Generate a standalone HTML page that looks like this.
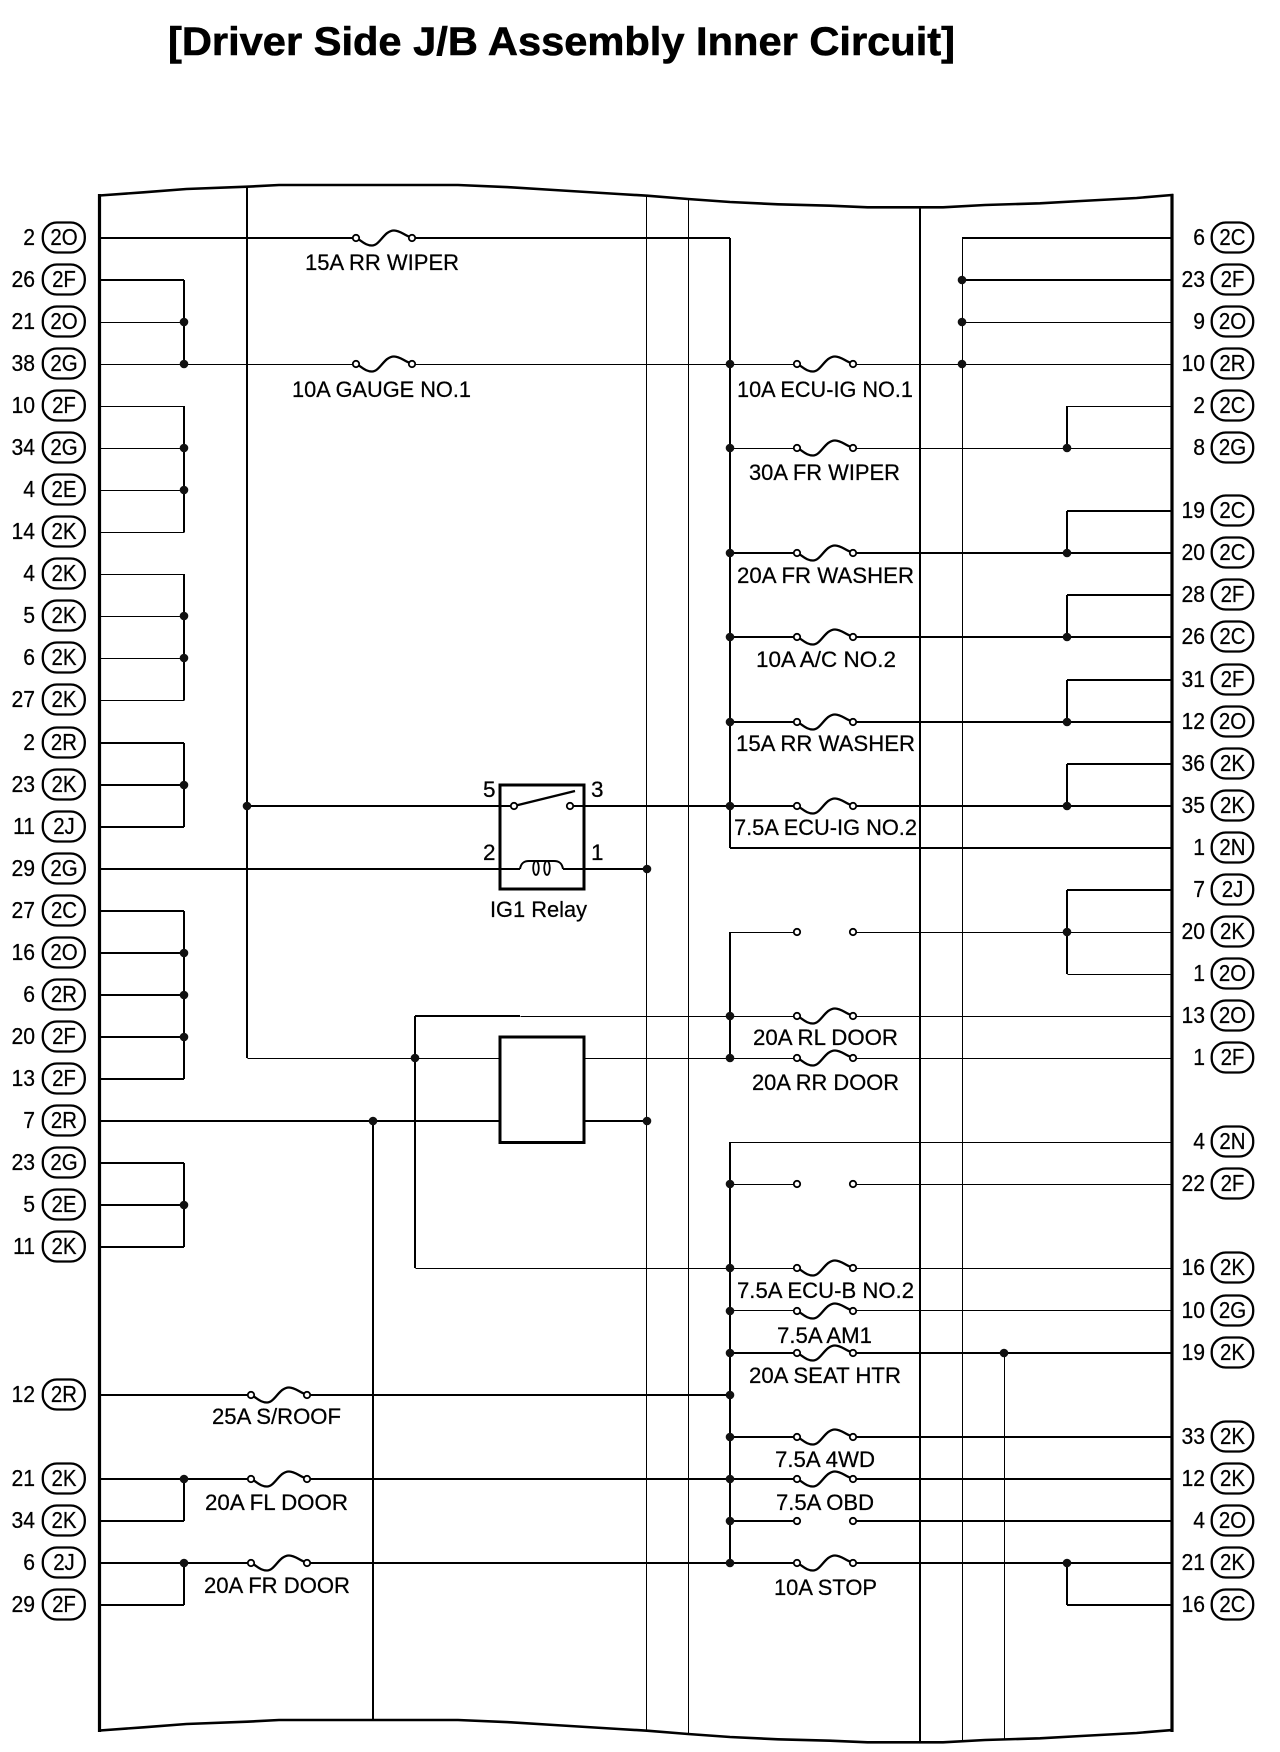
<!DOCTYPE html>
<html>
<head>
<meta charset="utf-8">
<title>Driver Side J/B Assembly Inner Circuit</title>
<style>
html,body{margin:0;padding:0;background:#fff}
svg{display:block}
text{font-family:"Liberation Sans",Arial,sans-serif;font-size:22.5px;fill:#000;stroke:#000;stroke-width:.25px}
.n{text-anchor:end;font-size:23px;transform-box:fill-box;transform-origin:100% 50%;transform:scaleX(.92)}
.p{text-anchor:middle;font-size:23.5px;transform-box:fill-box;transform-origin:50% 50%;transform:scaleX(.87)}
.w{fill:none;stroke:#000;shape-rendering:crispEdges}
</style>
</head>
<body>
<svg xmlns="http://www.w3.org/2000/svg" width="1280" height="1752" viewBox="0 0 1280 1752">
<defs>
<clipPath id="fc"><polygon points="99.5,195.5 143.6,192.3 186.4,189 247,186.7 279,185 458,185 511,187.3 554,190 618.6,194 647,195.7 688,199 730,202 778,204.3 830,205.7 867.6,207.3 943,207.3 985,205 1040,203.3 1081,201 1136.6,198 1172,195 1172,1730 1136.6,1733 1081,1736 1040,1738.3 985,1740 943,1742.3 867.6,1742.3 830,1740.7 778,1739.3 730,1737 688,1734 647,1730.7 618.6,1729 554,1725 511,1722.3 458,1720 279,1720 247,1721.7 186.4,1724 143.6,1727.3 99.5,1730.5"/></clipPath>
<g id="f"><path d="M-26,1 C-21,4 -18,7.5 -12,7.5 C-4,7.5 0,-7.5 10,-7.5 C16,-7.5 20,-3 26,-1" fill="none" stroke="#000" stroke-width="2.3"/><circle cx="-28" cy="0" r="3.2" fill="#fff" stroke="#000" stroke-width="1.8"/><circle cx="28" cy="0" r="3.2" fill="#fff" stroke="#000" stroke-width="1.8"/></g>
<g id="o"><circle cx="-28" cy="0" r="3.2" fill="#fff" stroke="#000" stroke-width="1.8"/><circle cx="28" cy="0" r="3.2" fill="#fff" stroke="#000" stroke-width="1.8"/></g>
<circle id="d" r="4.3" fill="#111"/>
<rect id="pl" x="42.8" y="-15.5" width="42" height="30" rx="14" ry="14" fill="#fff" stroke="#000" stroke-width="2.3"/>
<rect id="pr" x="1211.7" y="-15.5" width="41.5" height="30" rx="14" ry="14" fill="#fff" stroke="#000" stroke-width="2.3"/>
</defs>

<text x="168" y="55" textLength="787" lengthAdjust="spacingAndGlyphs" style="font-size:40px;font-weight:bold;stroke-width:.6px">[Driver Side J/B Assembly Inner Circuit]</text>

<!-- thin wires -->
<g class="w" stroke-width="1" transform="translate(0.5,0.5)" clip-path="url(#fc)">
<path d="M646 180V1745M688 180V1745M962 238V1745M1004 1353V1745"/>
<path d="M100 322H184M962 322H1172M100 364H356M412 364H797M853 364H1172M100 406H184M1067 406H1172M100 448H184M730 448H797M853 448H1172M100 490H184M100 532H184M100 574H184M100 616H184M100 658H184M100 700H184"/>
<path d="M730 932H797M853 932H1172M1067 974H1172M520 1016H797M853 1016H1172M247 1058H500M584 1058H797M853 1058H1172M730 1142H1172M730 1184H797M853 1184H1172M415 1268H797M853 1268H1172M730 1310H797M853 1310H1172"/>
</g>

<!-- thick wires -->
<g class="w" stroke-width="2" clip-path="url(#fc)">
<path d="M100 238H356M412 238H730M962 238H1172M100 280H184M962 280H1172"/>
<path d="M100 743H184M100 785H184M100 827H184M100 869H520M563 869H647M100 911H184M100 953H184M100 995H184M100 1037H184M100 1079H184M100 1121H500M584 1121H647M100 1163H184M100 1205H184M100 1247H184"/>
<path d="M247 806H514M570 806H797M853 806H1172M415 1016H520"/>
<path d="M100 1395H251M307 1395H730M100 1479H251M307 1479H797M853 1479H1172M100 1521H184M730 1521H797M853 1521H1172M100 1563H251M307 1563H797M853 1563H1172M100 1605H184M1067 1605H1172M730 1353H797M853 1353H1172M730 1437H797M853 1437H1172"/>
<path d="M1067 511H1172M730 553H797M853 553H1172M1067 595H1172M730 637H797M853 637H1172M1067 680H1172M730 722H797M853 722H1172M1067 764H1172M730 848H1172M1067 890H1172"/>
<path d="M247 180V1058M373 1121V1745M415 1016V1268M730 238V848M730 932V1058M730 1142V1563M920 180V1745"/>
<path d="M184 280V364M184 406V532M184 574V700M184 743V827M184 911V1079M184 1163V1247M184 1479V1521M184 1563V1605"/>
<path d="M1067 406V448M1067 511V553M1067 595V637M1067 680V722M1067 764V806M1067 890V974M1067 1563V1605"/>
</g>

<!-- frame -->
<polygon points="99.5,195.5 143.6,192.3 186.4,189 247,186.7 279,185 458,185 511,187.3 554,190 618.6,194 647,195.7 688,199 730,202 778,204.3 830,205.7 867.6,207.3 943,207.3 985,205 1040,203.3 1081,201 1136.6,198 1172,195 1172,1730 1136.6,1733 1081,1736 1040,1738.3 985,1740 943,1742.3 867.6,1742.3 830,1740.7 778,1739.3 730,1737 688,1734 647,1730.7 618.6,1729 554,1725 511,1722.3 458,1720 279,1720 247,1721.7 186.4,1724 143.6,1727.3 99.5,1730.5" fill="none" stroke="#000" stroke-width="2.6"/>
<path d="M99.5 194V1732M1172 194V1732" stroke="#000" stroke-width="3.2" fill="none"/>

<!-- junction dots -->
<use href="#d" x="184" y="322"/><use href="#d" x="184" y="364"/><use href="#d" x="184" y="448"/><use href="#d" x="184" y="490"/><use href="#d" x="184" y="616"/><use href="#d" x="184" y="658"/><use href="#d" x="184" y="785"/><use href="#d" x="184" y="953"/><use href="#d" x="184" y="995"/><use href="#d" x="184" y="1037"/><use href="#d" x="184" y="1205"/><use href="#d" x="184" y="1479"/><use href="#d" x="184" y="1563"/>
<use href="#d" x="247" y="806"/><use href="#d" x="415" y="1058"/><use href="#d" x="373" y="1121"/><use href="#d" x="647" y="869"/><use href="#d" x="647" y="1121"/>
<use href="#d" x="730" y="364"/><use href="#d" x="730" y="448"/><use href="#d" x="730" y="553"/><use href="#d" x="730" y="637"/><use href="#d" x="730" y="722"/><use href="#d" x="730" y="806"/><use href="#d" x="730" y="1016"/><use href="#d" x="730" y="1058"/><use href="#d" x="730" y="1184"/><use href="#d" x="730" y="1268"/><use href="#d" x="730" y="1311"/><use href="#d" x="730" y="1353"/><use href="#d" x="730" y="1395"/><use href="#d" x="730" y="1437"/><use href="#d" x="730" y="1479"/><use href="#d" x="730" y="1521"/><use href="#d" x="730" y="1563"/>
<use href="#d" x="962" y="280"/><use href="#d" x="962" y="322"/><use href="#d" x="962" y="364"/><use href="#d" x="1004" y="1353"/>
<use href="#d" x="1067" y="448"/><use href="#d" x="1067" y="553"/><use href="#d" x="1067" y="637"/><use href="#d" x="1067" y="722"/><use href="#d" x="1067" y="806"/><use href="#d" x="1067" y="932"/><use href="#d" x="1067" y="1563"/>

<!-- fuses -->
<use href="#f" x="384" y="238"/><use href="#f" x="384" y="364"/>
<use href="#f" x="279" y="1395"/><use href="#f" x="279" y="1479"/><use href="#f" x="279" y="1563"/>
<use href="#f" x="825" y="364"/><use href="#f" x="825" y="448"/><use href="#f" x="825" y="553"/><use href="#f" x="825" y="637"/><use href="#f" x="825" y="722"/><use href="#f" x="825" y="806"/><use href="#f" x="825" y="1016"/><use href="#f" x="825" y="1058"/><use href="#f" x="825" y="1268"/><use href="#f" x="825" y="1311"/><use href="#f" x="825" y="1353"/><use href="#f" x="825" y="1437"/><use href="#f" x="825" y="1479"/><use href="#f" x="825" y="1563"/>
<use href="#o" x="825" y="932"/><use href="#o" x="825" y="1184"/><use href="#o" x="825" y="1521"/>

<!-- relay -->
<rect x="500" y="785" width="84" height="104" fill="none" stroke="#000" stroke-width="3"/>
<rect x="500" y="1037" width="84" height="105.5" fill="#fff" stroke="#000" stroke-width="3"/>
<path d="M514 806L575 791" stroke="#000" stroke-width="2.4" fill="none"/>
<circle cx="514" cy="806" r="3.2" fill="#fff" stroke="#000" stroke-width="1.8"/>
<circle cx="570" cy="806" r="3.2" fill="#fff" stroke="#000" stroke-width="1.8"/>
<path d="M520 869C521 863 524 861 529 861H554C559 861 562 863 563 869" fill="none" stroke="#000" stroke-width="2"/>
<ellipse cx="536" cy="868" rx="2.8" ry="7" fill="none" stroke="#000" stroke-width="1.8"/>
<ellipse cx="547" cy="868" rx="2.8" ry="7" fill="none" stroke="#000" stroke-width="1.8"/>
<text x="483" y="797">5</text><text x="591" y="797">3</text><text x="483" y="860">2</text><text x="591" y="860">1</text>

<!-- labels -->
<text x="305" y="270" textLength="154" lengthAdjust="spacingAndGlyphs">15A RR WIPER</text>
<text x="292" y="397" textLength="179" lengthAdjust="spacingAndGlyphs">10A GAUGE NO.1</text>
<text x="737" y="397" textLength="176" lengthAdjust="spacingAndGlyphs">10A ECU-IG NO.1</text>
<text x="749" y="480" textLength="151" lengthAdjust="spacingAndGlyphs">30A FR WIPER</text>
<text x="737" y="583" textLength="177" lengthAdjust="spacingAndGlyphs">20A FR WASHER</text>
<text x="756" y="667" textLength="140" lengthAdjust="spacingAndGlyphs">10A A/C NO.2</text>
<text x="736" y="751" textLength="179" lengthAdjust="spacingAndGlyphs">15A RR WASHER</text>
<text x="734" y="835" textLength="183" lengthAdjust="spacingAndGlyphs">7.5A ECU-IG NO.2</text>
<text x="490" y="917" textLength="97" lengthAdjust="spacingAndGlyphs">IG1 Relay</text>
<text x="753" y="1045" textLength="145" lengthAdjust="spacingAndGlyphs">20A RL DOOR</text>
<text x="752" y="1090" textLength="147" lengthAdjust="spacingAndGlyphs">20A RR DOOR</text>
<text x="737" y="1298" textLength="177" lengthAdjust="spacingAndGlyphs">7.5A ECU-B NO.2</text>
<text x="777" y="1343" textLength="95" lengthAdjust="spacingAndGlyphs">7.5A AM1</text>
<text x="749" y="1383" textLength="152" lengthAdjust="spacingAndGlyphs">20A SEAT HTR</text>
<text x="775" y="1467" textLength="100" lengthAdjust="spacingAndGlyphs">7.5A 4WD</text>
<text x="776" y="1510" textLength="98" lengthAdjust="spacingAndGlyphs">7.5A OBD</text>
<text x="774" y="1595" textLength="103" lengthAdjust="spacingAndGlyphs">10A STOP</text>
<text x="212" y="1424" textLength="129" lengthAdjust="spacingAndGlyphs">25A S/ROOF</text>
<text x="205" y="1510" textLength="143" lengthAdjust="spacingAndGlyphs">20A FL DOOR</text>
<text x="204" y="1593" textLength="146" lengthAdjust="spacingAndGlyphs">20A FR DOOR</text>

<!-- left connectors -->
<g transform="translate(0,238)"><use href="#pl"/><text x="35" y="7" class="n">2</text><text x="64" y="7" class="p">2O</text></g>
<g transform="translate(0,280)"><use href="#pl"/><text x="35" y="7" class="n">26</text><text x="64" y="7" class="p">2F</text></g>
<g transform="translate(0,322)"><use href="#pl"/><text x="35" y="7" class="n">21</text><text x="64" y="7" class="p">2O</text></g>
<g transform="translate(0,364)"><use href="#pl"/><text x="35" y="7" class="n">38</text><text x="64" y="7" class="p">2G</text></g>
<g transform="translate(0,406)"><use href="#pl"/><text x="35" y="7" class="n">10</text><text x="64" y="7" class="p">2F</text></g>
<g transform="translate(0,448)"><use href="#pl"/><text x="35" y="7" class="n">34</text><text x="64" y="7" class="p">2G</text></g>
<g transform="translate(0,490)"><use href="#pl"/><text x="35" y="7" class="n">4</text><text x="64" y="7" class="p">2E</text></g>
<g transform="translate(0,532)"><use href="#pl"/><text x="35" y="7" class="n">14</text><text x="64" y="7" class="p">2K</text></g>
<g transform="translate(0,574)"><use href="#pl"/><text x="35" y="7" class="n">4</text><text x="64" y="7" class="p">2K</text></g>
<g transform="translate(0,616)"><use href="#pl"/><text x="35" y="7" class="n">5</text><text x="64" y="7" class="p">2K</text></g>
<g transform="translate(0,658)"><use href="#pl"/><text x="35" y="7" class="n">6</text><text x="64" y="7" class="p">2K</text></g>
<g transform="translate(0,700)"><use href="#pl"/><text x="35" y="7" class="n">27</text><text x="64" y="7" class="p">2K</text></g>
<g transform="translate(0,743)"><use href="#pl"/><text x="35" y="7" class="n">2</text><text x="64" y="7" class="p">2R</text></g>
<g transform="translate(0,785)"><use href="#pl"/><text x="35" y="7" class="n">23</text><text x="64" y="7" class="p">2K</text></g>
<g transform="translate(0,827)"><use href="#pl"/><text x="35" y="7" class="n">11</text><text x="64" y="7" class="p">2J</text></g>
<g transform="translate(0,869)"><use href="#pl"/><text x="35" y="7" class="n">29</text><text x="64" y="7" class="p">2G</text></g>
<g transform="translate(0,911)"><use href="#pl"/><text x="35" y="7" class="n">27</text><text x="64" y="7" class="p">2C</text></g>
<g transform="translate(0,953)"><use href="#pl"/><text x="35" y="7" class="n">16</text><text x="64" y="7" class="p">2O</text></g>
<g transform="translate(0,995)"><use href="#pl"/><text x="35" y="7" class="n">6</text><text x="64" y="7" class="p">2R</text></g>
<g transform="translate(0,1037)"><use href="#pl"/><text x="35" y="7" class="n">20</text><text x="64" y="7" class="p">2F</text></g>
<g transform="translate(0,1079)"><use href="#pl"/><text x="35" y="7" class="n">13</text><text x="64" y="7" class="p">2F</text></g>
<g transform="translate(0,1121)"><use href="#pl"/><text x="35" y="7" class="n">7</text><text x="64" y="7" class="p">2R</text></g>
<g transform="translate(0,1163)"><use href="#pl"/><text x="35" y="7" class="n">23</text><text x="64" y="7" class="p">2G</text></g>
<g transform="translate(0,1205)"><use href="#pl"/><text x="35" y="7" class="n">5</text><text x="64" y="7" class="p">2E</text></g>
<g transform="translate(0,1247)"><use href="#pl"/><text x="35" y="7" class="n">11</text><text x="64" y="7" class="p">2K</text></g>
<g transform="translate(0,1395)"><use href="#pl"/><text x="35" y="7" class="n">12</text><text x="64" y="7" class="p">2R</text></g>
<g transform="translate(0,1479)"><use href="#pl"/><text x="35" y="7" class="n">21</text><text x="64" y="7" class="p">2K</text></g>
<g transform="translate(0,1521)"><use href="#pl"/><text x="35" y="7" class="n">34</text><text x="64" y="7" class="p">2K</text></g>
<g transform="translate(0,1563)"><use href="#pl"/><text x="35" y="7" class="n">6</text><text x="64" y="7" class="p">2J</text></g>
<g transform="translate(0,1605)"><use href="#pl"/><text x="35" y="7" class="n">29</text><text x="64" y="7" class="p">2F</text></g>

<!-- right connectors -->
<g transform="translate(0,238)"><use href="#pr"/><text x="1205" y="7" class="n">6</text><text x="1232.5" y="7" class="p">2C</text></g>
<g transform="translate(0,280)"><use href="#pr"/><text x="1205" y="7" class="n">23</text><text x="1232.5" y="7" class="p">2F</text></g>
<g transform="translate(0,322)"><use href="#pr"/><text x="1205" y="7" class="n">9</text><text x="1232.5" y="7" class="p">2O</text></g>
<g transform="translate(0,364)"><use href="#pr"/><text x="1205" y="7" class="n">10</text><text x="1232.5" y="7" class="p">2R</text></g>
<g transform="translate(0,406)"><use href="#pr"/><text x="1205" y="7" class="n">2</text><text x="1232.5" y="7" class="p">2C</text></g>
<g transform="translate(0,448)"><use href="#pr"/><text x="1205" y="7" class="n">8</text><text x="1232.5" y="7" class="p">2G</text></g>
<g transform="translate(0,511)"><use href="#pr"/><text x="1205" y="7" class="n">19</text><text x="1232.5" y="7" class="p">2C</text></g>
<g transform="translate(0,553)"><use href="#pr"/><text x="1205" y="7" class="n">20</text><text x="1232.5" y="7" class="p">2C</text></g>
<g transform="translate(0,595)"><use href="#pr"/><text x="1205" y="7" class="n">28</text><text x="1232.5" y="7" class="p">2F</text></g>
<g transform="translate(0,637)"><use href="#pr"/><text x="1205" y="7" class="n">26</text><text x="1232.5" y="7" class="p">2C</text></g>
<g transform="translate(0,680)"><use href="#pr"/><text x="1205" y="7" class="n">31</text><text x="1232.5" y="7" class="p">2F</text></g>
<g transform="translate(0,722)"><use href="#pr"/><text x="1205" y="7" class="n">12</text><text x="1232.5" y="7" class="p">2O</text></g>
<g transform="translate(0,764)"><use href="#pr"/><text x="1205" y="7" class="n">36</text><text x="1232.5" y="7" class="p">2K</text></g>
<g transform="translate(0,806)"><use href="#pr"/><text x="1205" y="7" class="n">35</text><text x="1232.5" y="7" class="p">2K</text></g>
<g transform="translate(0,848)"><use href="#pr"/><text x="1205" y="7" class="n">1</text><text x="1232.5" y="7" class="p">2N</text></g>
<g transform="translate(0,890)"><use href="#pr"/><text x="1205" y="7" class="n">7</text><text x="1232.5" y="7" class="p">2J</text></g>
<g transform="translate(0,932)"><use href="#pr"/><text x="1205" y="7" class="n">20</text><text x="1232.5" y="7" class="p">2K</text></g>
<g transform="translate(0,974)"><use href="#pr"/><text x="1205" y="7" class="n">1</text><text x="1232.5" y="7" class="p">2O</text></g>
<g transform="translate(0,1016)"><use href="#pr"/><text x="1205" y="7" class="n">13</text><text x="1232.5" y="7" class="p">2O</text></g>
<g transform="translate(0,1058)"><use href="#pr"/><text x="1205" y="7" class="n">1</text><text x="1232.5" y="7" class="p">2F</text></g>
<g transform="translate(0,1142)"><use href="#pr"/><text x="1205" y="7" class="n">4</text><text x="1232.5" y="7" class="p">2N</text></g>
<g transform="translate(0,1184)"><use href="#pr"/><text x="1205" y="7" class="n">22</text><text x="1232.5" y="7" class="p">2F</text></g>
<g transform="translate(0,1268)"><use href="#pr"/><text x="1205" y="7" class="n">16</text><text x="1232.5" y="7" class="p">2K</text></g>
<g transform="translate(0,1311)"><use href="#pr"/><text x="1205" y="7" class="n">10</text><text x="1232.5" y="7" class="p">2G</text></g>
<g transform="translate(0,1353)"><use href="#pr"/><text x="1205" y="7" class="n">19</text><text x="1232.5" y="7" class="p">2K</text></g>
<g transform="translate(0,1437)"><use href="#pr"/><text x="1205" y="7" class="n">33</text><text x="1232.5" y="7" class="p">2K</text></g>
<g transform="translate(0,1479)"><use href="#pr"/><text x="1205" y="7" class="n">12</text><text x="1232.5" y="7" class="p">2K</text></g>
<g transform="translate(0,1521)"><use href="#pr"/><text x="1205" y="7" class="n">4</text><text x="1232.5" y="7" class="p">2O</text></g>
<g transform="translate(0,1563)"><use href="#pr"/><text x="1205" y="7" class="n">21</text><text x="1232.5" y="7" class="p">2K</text></g>
<g transform="translate(0,1605)"><use href="#pr"/><text x="1205" y="7" class="n">16</text><text x="1232.5" y="7" class="p">2C</text></g>
</svg>
</body>
</html>
